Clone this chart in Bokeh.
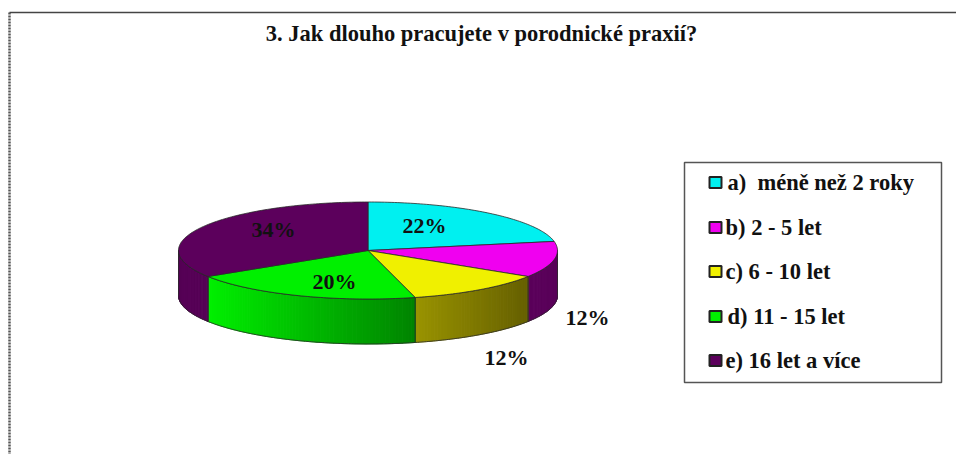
import math
from bokeh.plotting import figure
from bokeh.models import Range1d
from bokeh.core.properties import value
from bokeh.embed import file_html
from bokeh.resources import INLINE

title = "3. Jak dlouho pracujete v porodnické praxií?"
categories = ["a)\u00a0 méně než 2 roky", "b) 2 - 5 let", "c) 6 - 10 let", "d) 11 - 15 let", "e) 16 let a více"]
shares = [22, 12, 12, 20, 34]
colors = ["#00F0F0", "#F000F0", "#F0F000", "#00F000", "#5C005C"]
wall_left = ["#00A0A0", "#5A005A", "#9A9400", "#00F000", "#560056"]
wall_right = ["#00A0A0", "#5A005A", "#666000", "#008400", "#560056"]
pct_pos = [(424, 225), (587, 317), (506, 357), (334, 281), (273, 229)]

FONT = value("Liberation Serif")
CX, CY, RX, RY, DEPTH = 367.5, 250.0, 189.5, 48.5, 45.0

p = figure(width=956, height=454, output_backend="svg", toolbar_location=None,
           x_range=Range1d(0, 956), y_range=Range1d(454, 0),
           x_axis_type=None, y_axis_type=None, min_border=0,
           outline_line_color=None, background_fill_color="white", border_fill_color="white")
p.grid.visible = False


def rim(a):
    r = math.radians(a)
    return CX + RX * math.sin(r), CY - RY * math.cos(r)


def hex_mix(c1, c2, t):
    a = [int(c1[i:i + 2], 16) for i in (1, 3, 5)]
    b = [int(c2[i:i + 2], 16) for i in (1, 3, 5)]
    return "#%02x%02x%02x" % tuple(round(u + (v - u) * t) for u, v in zip(a, b))


# frame
p.line([9, 9], [12, 454], line_color="#555555", line_width=2.5, line_dash="2 1")
p.line([9, 956], [12, 12], line_color="#444444", line_width=1.5)

edges = [0]
for s in shares:
    edges.append(edges[-1] + s * 3.6)

# side walls (front half only: 90..270 degrees clockwise from the top)
for i in range(len(shares)):
    a0, a1 = max(edges[i], 90), min(edges[i + 1], 270)
    if a1 <= a0:
        continue
    N = max(1, int(a1 - a0))
    xa, xb = rim(a0)[0], rim(a1)[0]
    xmin, xmax = min(xa, xb), max(xa, xb)
    xs, ys, cs = [], [], []
    for k in range(N):
        b0 = a0 + (a1 - a0) * k / N
        b1 = a0 + (a1 - a0) * (k + 1) / N
        top = [rim(b0 + (b1 - b0) * j / 3) for j in range(4)]
        xs.append([q[0] for q in top] + [q[0] for q in reversed(top)])
        ys.append([q[1] for q in top] + [q[1] + DEPTH for q in reversed(top)])
        t = (rim(b0)[0] - xmin) / ((xmax - xmin) or 1)
        cs.append(hex_mix(wall_left[i], wall_right[i], t))
    p.patches(xs, ys, fill_color=cs, line_color=cs, line_width=1)
    pts = [rim(a0 + (a1 - a0) * k / 60) for k in range(61)]
    ox = [q[0] for q in pts] + [q[0] for q in reversed(pts)] + [pts[0][0]]
    oy = [q[1] for q in pts] + [q[1] + DEPTH for q in reversed(pts)] + [pts[0][1]]
    p.line(ox, oy, line_color="#2a2a2a", line_width=0.8)

# top face
for i in range(len(shares)):
    n = max(2, int(edges[i + 1] - edges[i]))
    pts = [rim(edges[i] + (edges[i + 1] - edges[i]) * k / n) for k in range(n + 1)]
    p.patch([CX] + [q[0] for q in pts], [CY] + [q[1] for q in pts],
            fill_color=colors[i], line_color="#2a2a2a", line_width=0.8)

# percent labels
p.text([q[0] for q in pct_pos], [q[1] for q in pct_pos], text=[f"{s}%" for s in shares],
       text_font=FONT, text_font_style="bold", text_font_size="22px",
       text_align="center", text_baseline="middle", text_color="#111111")

# title
p.text([481], [33], text=[title], text_font=FONT, text_font_style="bold", text_font_size="22.5px",
       text_align="center", text_baseline="middle", text_color="#111111")

# legend
LY = [182, 227, 271, 316, 360]
LTX = [727, 725, 725, 727, 725]
p.quad(left=[684], right=[941], top=[162], bottom=[382], fill_color="white",
       line_color="#555555", line_width=1.5)
p.rect([715] * 5, LY, width=[12] * 5, height=[11] * 5, fill_color=colors,
       line_color="#222222", line_width=2)
p.text(LTX, LY, text=categories, text_font=FONT, text_font_style="bold", text_font_size="22.5px",
       text_align="left", text_baseline="middle", text_color="#111111")

open("out.html", "w").write(file_html(p, INLINE))
